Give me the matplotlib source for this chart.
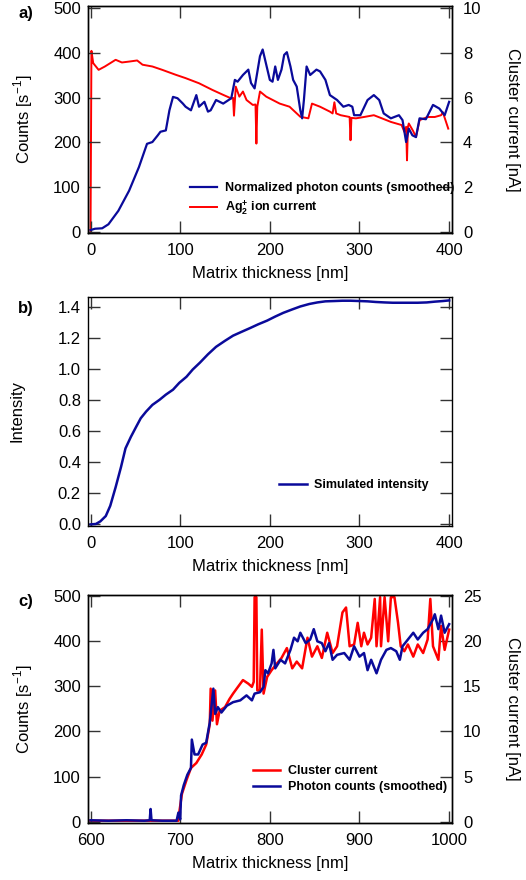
import numpy as np
import matplotlib
matplotlib.use("Agg")
import matplotlib.pyplot as plt

plt.rcParams['font.family'] = ['Liberation Sans', 'DejaVu Sans']
plt.rcParams['mathtext.fontset'] = 'custom'
plt.rcParams['mathtext.rm'] = 'Liberation Sans'
plt.rcParams['mathtext.bf'] = 'Liberation Sans:bold'

BLUE = '#0a0a9a'
RED = '#ff0000'

# panel a: normalized photon counts (smoothed), counts per s
a_blue_x = [0, 5, 13, 20, 31, 43, 54, 63, 69, 75, 78, 84, 88, 92, 97, 101, 103, 106,
            112, 118, 121, 127, 131, 134, 140, 148, 157, 161, 164, 170, 176, 179, 183,
            189, 192, 196, 200, 203, 206, 209, 213, 216, 219, 223, 226, 230, 234, 236,
            238, 241, 245, 252, 256, 262, 267, 275, 282, 288, 292, 294, 301, 309, 316,
            322, 327, 335, 344, 348, 352, 355, 359, 363, 367, 374, 382, 389, 395, 400]
a_blue_y = [4, 7, 8, 17, 47, 92, 145, 197, 201, 216, 224, 227, 272, 302, 299, 291, 287, 280,
            272, 306, 280, 291, 269, 272, 295, 287, 299, 340, 336, 351, 363, 333, 321,
            393, 408, 374, 340, 336, 370, 340, 363, 396, 402, 370, 340, 325, 272, 254,
            295, 370, 351, 363, 359, 340, 306, 295, 280, 284, 280, 261, 261, 295, 306,
            295, 265, 254, 261, 250, 201, 231, 216, 212, 254, 252, 284, 276, 261, 291]

# panel a: Ag2+ ion current, nA
a_red_x = [0, 1, 3, 9, 16, 28, 35, 43, 52, 58, 69, 80, 95, 106, 121, 136, 148, 157, 159,
           160, 162, 166, 170, 174, 181, 184, 185, 186, 189, 196, 211, 222, 234, 243,
           247, 256, 267, 270, 272, 274, 279, 289, 290, 291, 296, 305, 316, 325, 335,
           347, 350, 352, 353, 354, 355, 360, 363, 367, 376, 384, 391, 393, 399]
a_red_y = [0.0, 8.1, 7.55, 7.25, 7.4, 7.7, 7.58, 7.62, 7.67, 7.48, 7.4, 7.25, 7.03, 6.88,
           6.65, 6.35, 6.13, 5.97, 6.0, 5.2, 6.5, 6.05, 6.28, 5.9, 5.68, 5.7, 3.95, 5.6,
           6.28, 6.05, 5.74, 5.6, 5.15, 5.08, 5.74, 5.6, 5.38, 5.3, 5.8, 5.3, 5.22, 5.14,
           4.1, 5.1, 5.08, 5.14, 5.22, 5.08, 4.92, 4.78, 4.48, 4.7, 3.2, 4.7, 4.85, 4.5,
           4.24, 5.0, 5.14, 5.14, 5.22, 5.35, 4.62]

# panel b: simulated intensity
b_x = [0, 6, 11, 17, 22, 28, 34, 39, 45, 51, 56, 62, 69, 77, 84, 92, 99, 107, 114, 122,
       131, 140, 150, 159, 169, 178, 187, 197, 206, 215, 225, 234, 244, 253, 262, 272,
       281, 290, 300, 309, 318, 328, 337, 346, 356, 365, 375, 384, 393, 400]
b_y = [0.0, 0.003, 0.02, 0.054, 0.12, 0.24, 0.37, 0.49, 0.564, 0.63, 0.684, 0.727, 0.77,
       0.803, 0.836, 0.868, 0.912, 0.951, 0.998, 1.042, 1.096, 1.144, 1.183, 1.216,
       1.242, 1.265, 1.289, 1.313, 1.339, 1.363, 1.385, 1.404, 1.42, 1.43, 1.437, 1.439,
       1.441, 1.441, 1.439, 1.437, 1.433, 1.430, 1.428, 1.428, 1.428, 1.428, 1.430,
       1.435, 1.439, 1.443]

# panel c: photon counts (smoothed), counts per s
c_blue_x = [600, 620, 640, 660, 666, 667, 668, 680, 696, 698, 700, 701, 704, 708, 712,
            713, 716, 720, 725, 729, 733, 737, 739, 742, 746, 752, 759, 767, 774, 780,
            783, 789, 793, 795, 798, 802, 804, 806, 812, 817, 823, 827, 831, 834, 840,
            845, 849, 853, 858, 862, 866, 870, 875, 883, 889, 894, 900, 905, 909, 913,
            919, 924, 930, 935, 941, 945, 948, 954, 960, 965, 971, 976, 982, 984, 988,
            991, 995, 1000]
c_blue_y = [3, 2, 3, 2, 3, 28, 3, 2, 2, 20, 5, 58, 81, 104, 119, 182, 149, 149, 171,
            175, 220, 295, 239, 254, 242, 257, 265, 269, 280, 269, 284, 287, 299, 336,
            329, 351, 381, 340, 359, 351, 381, 408, 400, 419, 396, 404, 427, 400, 396,
            378, 396, 359, 370, 374, 359, 389, 366, 374, 336, 359, 329, 359, 381, 385,
            378, 359, 389, 404, 419, 404, 419, 427, 449, 460, 427, 457, 419, 438]

# panel c: cluster current, nA
c_red_x = [600, 650, 698, 699, 702, 707, 712, 718, 724, 729, 733, 734, 736, 739, 741,
           744, 750, 755, 759, 763, 770, 776, 780, 782, 783, 785, 786, 789, 791, 793,
           797, 802, 808, 813, 819, 825, 830, 836, 842, 847, 853, 858, 864, 870, 875,
           881, 885, 889, 894, 898, 902, 905, 909, 913, 917, 919, 923, 924, 928, 932,
           935, 939, 943, 946, 950, 954, 960, 965, 971, 976, 979, 982, 988, 991, 995, 1000]
c_red_y = [0.1, 0.1, 0.1, 1.05, 3.1, 4.6, 5.95, 6.5, 7.45, 8.55, 10.8, 14.75, 11.2,
           14.55, 10.8, 12.3, 12.7, 13.6, 14.2, 14.75, 15.7, 15.3, 14.95, 15.5, 24.9,
           24.9, 14.55, 14.55, 21.3, 14.2, 16.05, 16.8, 17.55, 18.15, 19.25, 17.0, 17.75,
           17.0, 20.4, 18.3, 19.45, 18.15, 20.95, 18.7, 19.45, 23.2, 23.75, 19.45, 19.65,
           22.05, 19.45, 20.95, 19.65, 20.4, 24.7, 19.45, 24.9, 19.45, 24.9, 20.0, 24.9,
           24.9, 22.05, 19.45, 18.9, 19.65, 18.3, 19.65, 18.7, 20.2, 24.7, 19.45, 17.95,
           21.7, 19.05, 21.3]


def style_axis(ax, right=True):
    ax.tick_params(direction='in', length=8.5, width=1, colors='#333333',
                   labelcolor='black', labelsize=12, top=True, right=right)
    ax.tick_params(axis='x', pad=7)
    ax.tick_params(axis='y', pad=5)
    for s in ax.spines.values():
        s.set_linewidth(1)


fig = plt.figure(figsize=(5.26, 8.8), dpi=100)
L, W = 0.167, 0.692
leg_kw = dict(frameon=False, prop={'weight': 'bold', 'size': 9}, handlelength=2.2,
              handletextpad=0.6, labelspacing=0.3, borderaxespad=0)

# ---- a)
ax1 = fig.add_axes([L, 0.735, W, 0.258])
ax1.plot(a_blue_x, a_blue_y, color=BLUE, lw=1.6, label='Normalized photon counts (smoothed)')
ax1.plot([], [], color=RED, lw=1.4, label=r'Ag$_\mathbf{2}^\mathbf{+}$ ion current')
ax1.set_xlim(-3, 403)
ax1.set_ylim(-3, 505)
ax1.set_xticks([0, 100, 200, 300, 400])
ax1.set_yticks([0, 100, 200, 300, 400, 500])
ax1.set_xlabel('Matrix thickness [nm]', fontsize=12, labelpad=6)
ax1.set_ylabel('Counts [s$^{-1}$]', fontsize=12, labelpad=13)
style_axis(ax1, right=False)
ax1r = ax1.twinx()
ax1r.plot(a_red_x, a_red_y, color=RED, lw=1.4)
ax1r.set_ylim(-0.06, 10.1)
ax1r.set_yticks([0, 2, 4, 6, 8, 10])
ax1r.set_ylabel('Cluster current [nA]', fontsize=12, rotation=270, labelpad=28)
style_axis(ax1r)
ax1r.tick_params(left=False, pad=8)
ax1.set_zorder(ax1r.get_zorder() + 1)
ax1.patch.set_visible(False)
ax1.legend(loc='lower right', bbox_to_anchor=(1.02, 0.05), **leg_kw)
fig.text(0.035, 0.985, 'a)', fontsize=12, weight='bold', va='center')

# ---- b)
ax2 = fig.add_axes([L, 0.4023, W, 0.2602])
ax2.plot(b_x, b_y, color=BLUE, lw=1.8, label='Simulated intensity')
ax2.set_xlim(-3, 403)
ax2.set_ylim(-0.01, 1.465)
ax2.set_xticks([0, 100, 200, 300, 400])
ax2.set_yticks(np.arange(0, 1.41, 0.2))
ax2.yaxis.set_major_formatter(plt.FormatStrFormatter('%.1f'))
ax2.set_xlabel('Matrix thickness [nm]', fontsize=12, labelpad=6)
ax2.set_ylabel('Intensity', fontsize=12, labelpad=24)
style_axis(ax2)
ax2.legend(loc='lower right', bbox_to_anchor=(0.95, 0.13), **leg_kw)
fig.text(0.035, 0.650, 'b)', fontsize=12, weight='bold', va='center')

# ---- c)
ax3 = fig.add_axes([L, 0.0648, W, 0.2592])
ax3.plot([], [], color=RED, lw=1.8, label='Cluster current')
ax3.plot(c_blue_x, c_blue_y, color=BLUE, lw=1.8, label='Photon counts (smoothed)')
ax3.set_xlim(597, 1003)
ax3.set_ylim(-3, 503)
ax3.set_xticks([600, 700, 800, 900, 1000])
ax3.set_yticks([0, 100, 200, 300, 400, 500])
ax3.set_xlabel('Matrix thickness [nm]', fontsize=12, labelpad=6)
ax3.set_ylabel('Counts [s$^{-1}$]', fontsize=12, labelpad=13)
style_axis(ax3, right=False)
ax3r = ax3.twinx()
ax3r.plot(c_red_x, c_red_y, color=RED, lw=1.8)
ax3r.set_ylim(-0.15, 25.15)
ax3r.set_yticks([0, 5, 10, 15, 20, 25])
ax3r.set_ylabel('Cluster current [nA]', fontsize=12, rotation=270, labelpad=28)
style_axis(ax3r)
ax3r.tick_params(left=False, pad=8)
ax3.set_zorder(ax3r.get_zorder() + 1)
ax3.patch.set_visible(False)
ax3.legend(loc='lower right', bbox_to_anchor=(1.0, 0.11), **leg_kw)
fig.text(0.035, 0.316, 'c)', fontsize=12, weight='bold', va='center')

fig.savefig('out.png', dpi=100)
